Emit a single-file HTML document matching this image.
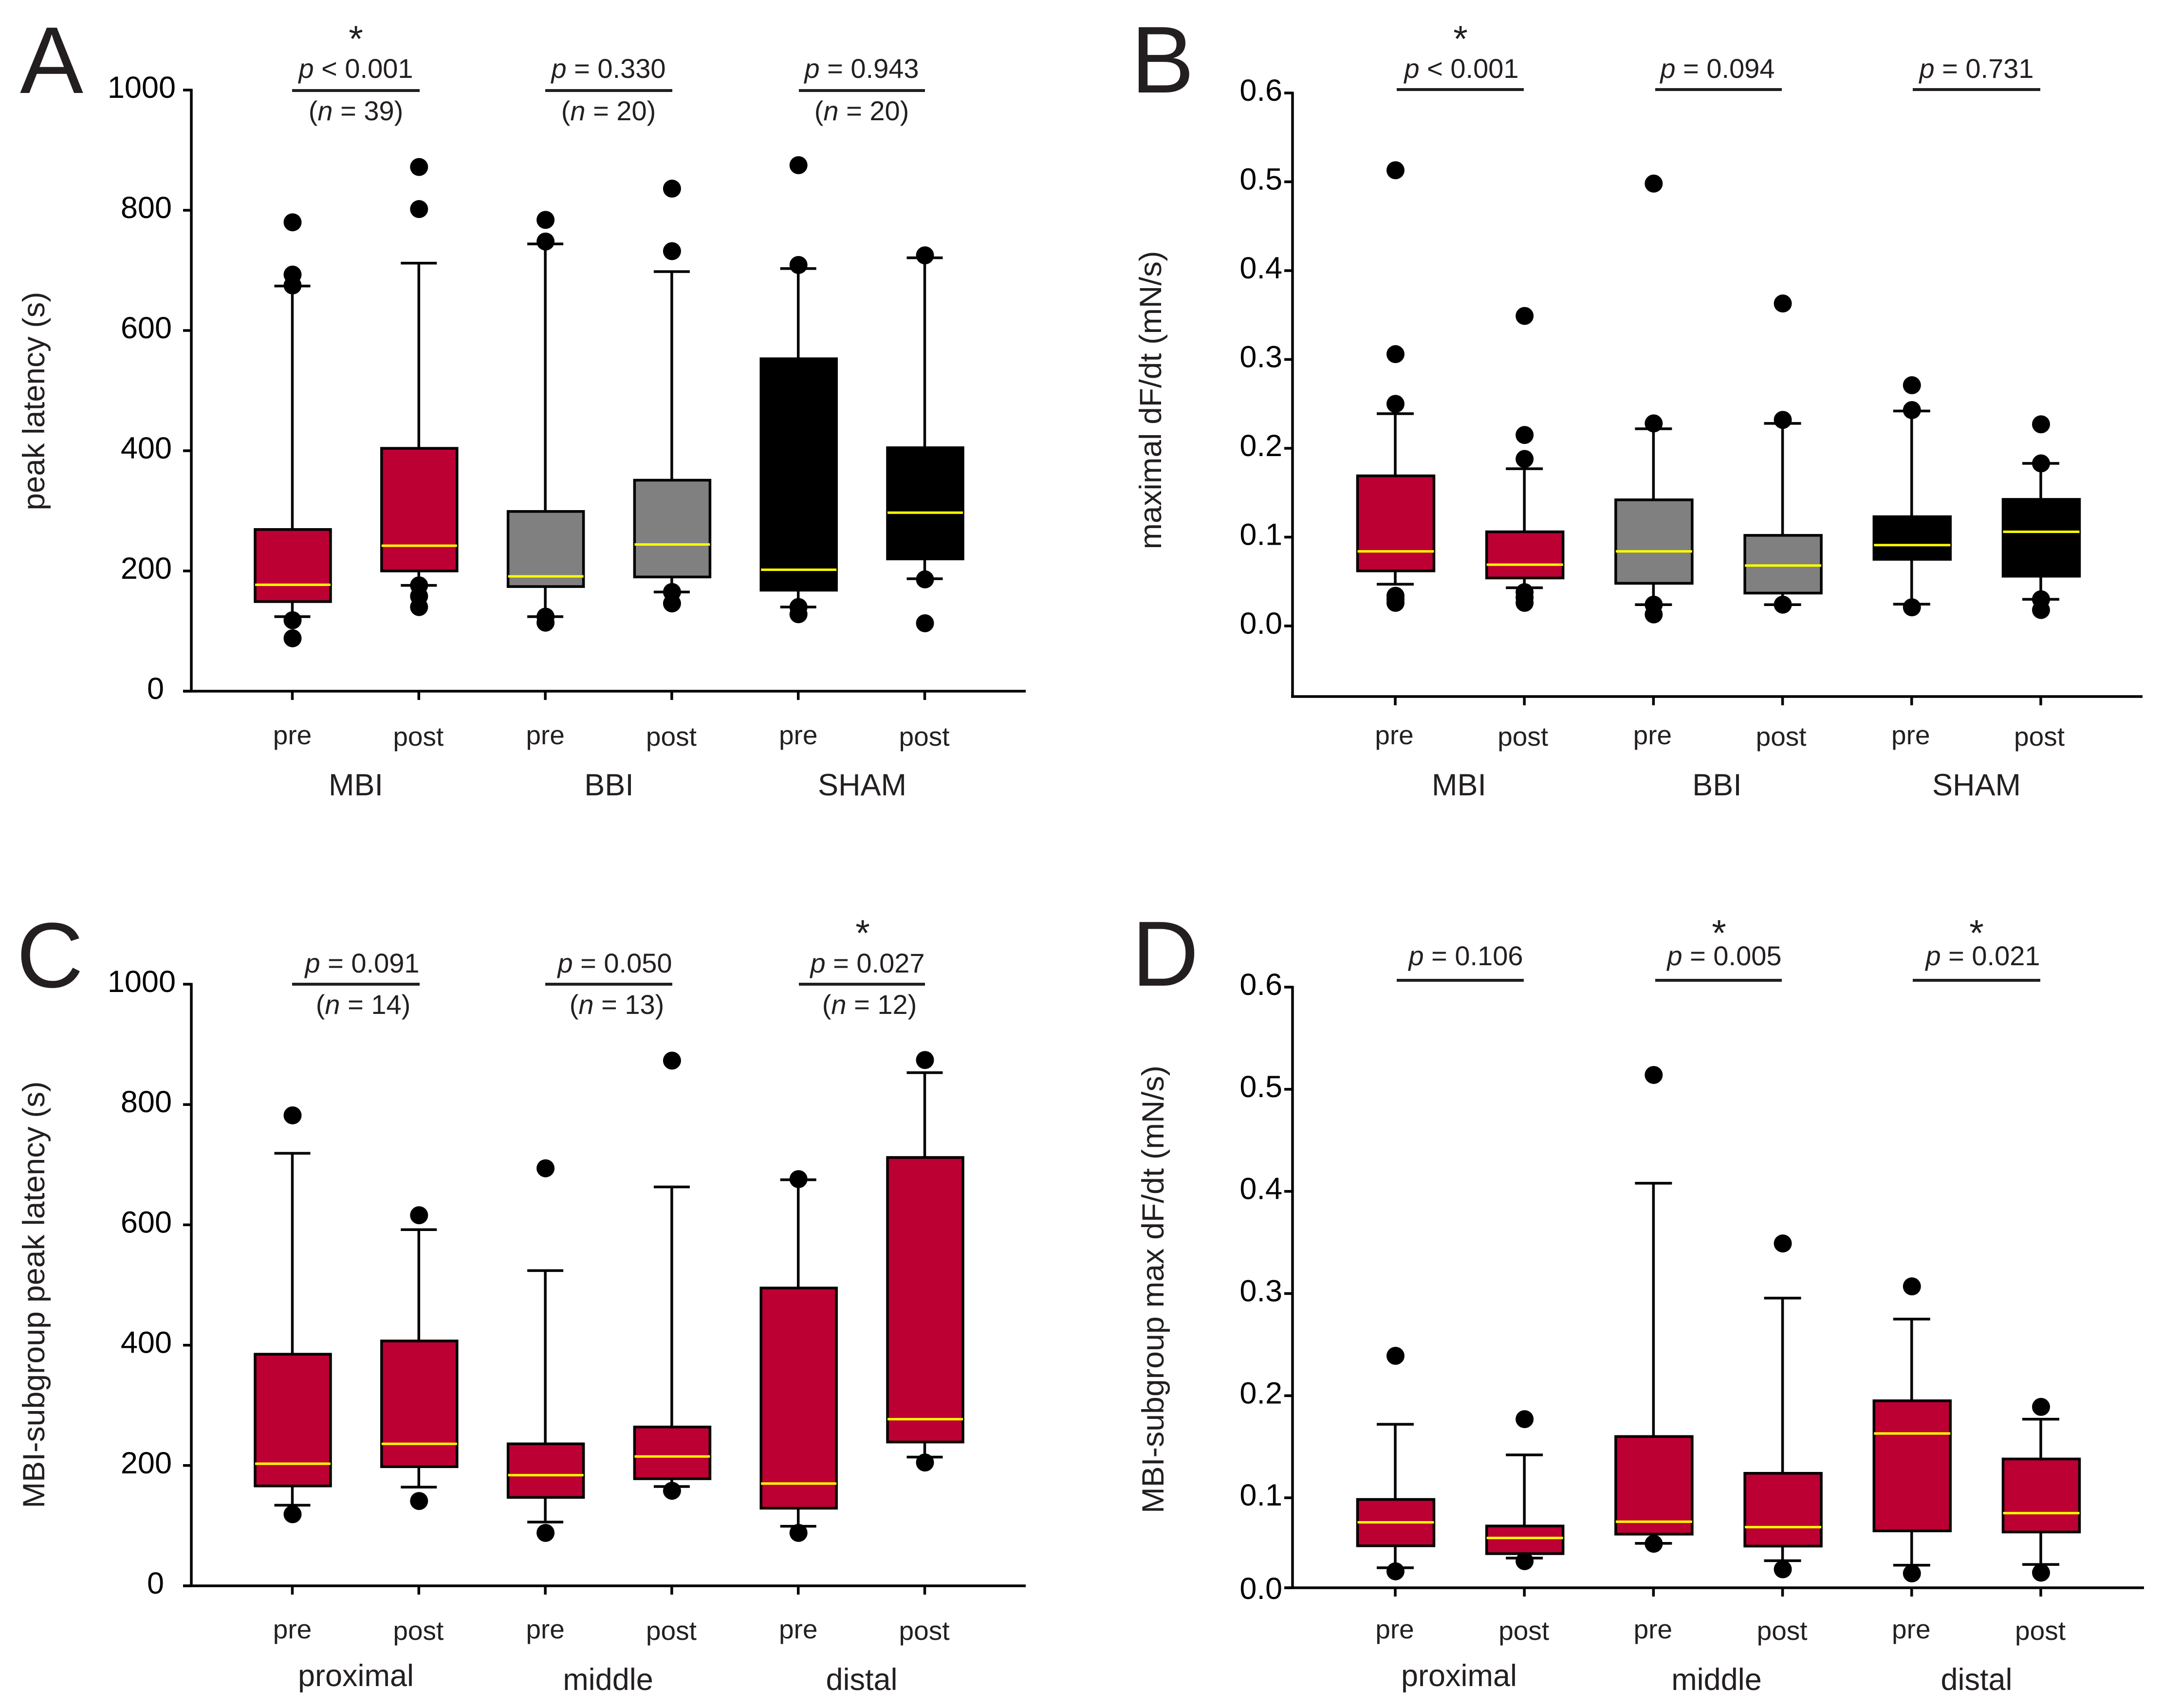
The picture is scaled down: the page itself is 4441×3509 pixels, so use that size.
<!DOCTYPE html>
<html lang="en">
<head>
<meta charset="utf-8">
<title>Peak latency and maximal dF/dt box plots</title>
<style>
html,body{margin:0;padding:0;background:#fff;}
svg{display:block;font-family:"Liberation Sans",Arial,sans-serif;fill:#231f20;}
.tick{font-size:63px;fill:#000;}
.cat{font-size:55px;}
.grp{font-size:63px;}
.ann{font-size:56px;text-anchor:middle;}
.star{font-size:76px;text-anchor:middle;}
.letter{font-size:195px;}
.ytitle{font-size:63px;text-anchor:middle;}
.grp{text-anchor:middle;}
.pline{stroke:#231f20;stroke-width:6;}
</style>
</head>
<body>
<svg id="figure" xmlns="http://www.w3.org/2000/svg" width="4441" height="3509" viewBox="0 0 4441 3509">
<rect width="4441" height="3509" fill="#ffffff"/>

<text class="letter" x="41" y="191">A</text>
<text class="letter" x="2323" y="190">B</text>
<text class="letter" x="34" y="2028" style="font-size:190px">C</text>
<text class="letter" x="2325" y="2025" style="font-size:190px">D</text>

<text class="ytitle" transform="translate(91,824) rotate(-90)" textLength="449" lengthAdjust="spacingAndGlyphs">peak latency (s)</text>
<text class="ytitle" transform="translate(2385,822) rotate(-90)" textLength="613" lengthAdjust="spacingAndGlyphs">maximal dF/dt (mN/s)</text>
<text class="ytitle" transform="translate(91,2660) rotate(-90)" textLength="877" lengthAdjust="spacingAndGlyphs">MBI-subgroup peak latency (s)</text>
<text class="ytitle" transform="translate(2390,2649) rotate(-90)" textLength="920" lengthAdjust="spacingAndGlyphs">MBI-subgroup max dF/dt (mN/s)</text>

<!-- Panel A annotations -->
<text class="star" x="731" y="106">*</text>
<text class="ann" x="731" y="160"><tspan font-style="italic">p</tspan> &lt; 0.001</text>
<text class="ann" x="1250" y="160"><tspan font-style="italic">p</tspan> = 0.330</text>
<text class="ann" x="1770" y="160"><tspan font-style="italic">p</tspan> = 0.943</text>
<line class="pline" x1="600" x2="862" y1="186" y2="186"/>
<line class="pline" x1="1120" x2="1381" y1="186" y2="186"/>
<line class="pline" x1="1641" x2="1900" y1="186" y2="186"/>
<text class="ann" x="731" y="247">(<tspan font-style="italic">n</tspan> = 39)</text>
<text class="ann" x="1250" y="247">(<tspan font-style="italic">n</tspan> = 20)</text>
<text class="ann" x="1770" y="247">(<tspan font-style="italic">n</tspan> = 20)</text>
<text class="grp" x="731" y="1634">MBI</text>
<text class="grp" x="1251" y="1634">BBI</text>
<text class="grp" x="1771" y="1634">SHAM</text>

<!-- Panel B annotations -->
<text class="star" x="3000" y="106">*</text>
<text class="ann" x="3002" y="160"><tspan font-style="italic">p</tspan> &lt; 0.001</text>
<text class="ann" x="3528" y="160"><tspan font-style="italic">p</tspan> = 0.094</text>
<text class="ann" x="4060" y="160"><tspan font-style="italic">p</tspan> = 0.731</text>
<line class="pline" x1="2869" x2="3130" y1="184" y2="184"/>
<line class="pline" x1="3400" x2="3660" y1="184" y2="184"/>
<line class="pline" x1="3929" x2="4191" y1="184" y2="184"/>
<text class="grp" x="2997" y="1634">MBI</text>
<text class="grp" x="3527" y="1634">BBI</text>
<text class="grp" x="4060" y="1634">SHAM</text>

<!-- Panel C annotations -->
<text class="star" x="1772" y="1943">*</text>
<text class="ann" x="744" y="1998"><tspan font-style="italic">p</tspan> = 0.091</text>
<text class="ann" x="1263" y="1998"><tspan font-style="italic">p</tspan> = 0.050</text>
<text class="ann" x="1782" y="1998"><tspan font-style="italic">p</tspan> = 0.027</text>
<line class="pline" x1="600" x2="862" y1="2022" y2="2022"/>
<line class="pline" x1="1120" x2="1381" y1="2022" y2="2022"/>
<line class="pline" x1="1641" x2="1900" y1="2022" y2="2022"/>
<text class="ann" x="746" y="2083">(<tspan font-style="italic">n</tspan> = 14)</text>
<text class="ann" x="1267" y="2083">(<tspan font-style="italic">n</tspan> = 13)</text>
<text class="ann" x="1786" y="2083">(<tspan font-style="italic">n</tspan> = 12)</text>
<text class="grp" x="731" y="3464">proximal</text>
<text class="grp" x="1249" y="3472">middle</text>
<text class="grp" x="1770" y="3472">distal</text>

<!-- Panel D annotations -->
<text class="star" x="3531" y="1943">*</text>
<text class="star" x="4060" y="1943">*</text>
<text class="ann" x="3011" y="1983"><tspan font-style="italic">p</tspan> = 0.106</text>
<text class="ann" x="3542" y="1983"><tspan font-style="italic">p</tspan> = 0.005</text>
<text class="ann" x="4073" y="1983"><tspan font-style="italic">p</tspan> = 0.021</text>
<line class="pline" x1="2869" x2="3130" y1="2014" y2="2014"/>
<line class="pline" x1="3400" x2="3660" y1="2014" y2="2014"/>
<line class="pline" x1="3929" x2="4191" y1="2014" y2="2014"/>
<text class="grp" x="2997" y="3464">proximal</text>
<text class="grp" x="3526" y="3472">middle</text>
<text class="grp" x="4060" y="3472">distal</text>
</svg>

<script>
// ---- shared categories ----
var categories = ["pre", "post", "pre", "post", "pre", "post"];

// ---- Panel A data: peak latency (s) ----
var aTickValues = [0, 200, 400, 600, 800, 1000];
var aTickLabels = ["0", "200", "400", "600", "800", "1000"];
var aQ3 = [269, 404, 299, 351, 553, 405];
var aMedian = [177, 242, 191, 244, 202, 297];
var aQ1 = [149, 200, 174, 190, 168, 220];
var aWhiskerHigh = [674, 712, 744, 698, 703, 721];
var aWhiskerLow = [124, 176, 124, 165, 140, 187];
var aOutliers = [
  [780, 693, 675, 118, 88],
  [872, 802, 176, 158, 140],
  [784, 748, 124, 114],
  [836, 732, 165, 146],
  [875, 709, 140, 128],
  [725, 186, 113]
];

// ---- Panel B data: maximal dF/dt (mN/s) ----
var bTickValues = [0, 0.1, 0.2, 0.3, 0.4, 0.5, 0.6];
var bTickLabels = ["0.0", "0.1", "0.2", "0.3", "0.4", "0.5", "0.6"];
var bQ3 = [0.169, 0.106, 0.142, 0.102, 0.123, 0.1425];
var bMedian = [0.084, 0.069, 0.084, 0.068, 0.091, 0.106];
var bQ1 = [0.062, 0.054, 0.048, 0.037, 0.075, 0.056];
var bWhiskerHigh = [0.239, 0.177, 0.222, 0.228, 0.242, 0.183];
var bWhiskerLow = [0.047, 0.043, 0.024, 0.024, 0.0245, 0.03];
var bOutliers = [
  [0.513, 0.306, 0.25, 0.034, 0.03, 0.026],
  [0.349, 0.215, 0.188, 0.038, 0.032, 0.026],
  [0.498, 0.228, 0.024, 0.013],
  [0.363, 0.232, 0.024],
  [0.271, 0.243, 0.021],
  [0.227, 0.183, 0.03, 0.018]
];

// ---- Panel C data: MBI subgroup peak latency (s) ----
var cTickValues = [0, 200, 400, 600, 800, 1000];
var cTickLabels = ["0", "200", "400", "600", "800", "1000"];
var cQ3 = [385, 407, 236, 264, 495, 712];
var cMedian = [203, 236, 184, 215, 170, 277];
var cQ1 = [166, 198, 147, 178, 129, 239];
var cWhiskerHigh = [719, 592, 524, 663, 675, 853];
var cWhiskerLow = [134, 164, 106, 165, 99, 214];
var cOutliers = [
  [782, 119],
  [616, 141],
  [694, 88],
  [873, 158],
  [676, 88],
  [874, 205]
];

// ---- Panel D data: MBI subgroup max dF/dt (mN/s) ----
// The original axis is truncated: its bottom tick is printed "0.0" just above true zero.
var dTickValues = [0.0119, 0.1, 0.2, 0.3, 0.4, 0.5, 0.6];
var dTickLabels = ["0.0", "0.1", "0.2", "0.3", "0.4", "0.5", "0.6"];
var dQ3 = [0.0984, 0.0724, 0.16, 0.124, 0.195, 0.138];
var dMedian = [0.076, 0.0607, 0.0766, 0.0713, 0.163, 0.085];
var dQ1 = [0.053, 0.0453, 0.0644, 0.0527, 0.0676, 0.0665];
var dWhiskerHigh = [0.172, 0.142, 0.408, 0.2955, 0.275, 0.177];
var dWhiskerLow = [0.0315, 0.041, 0.0554, 0.0384, 0.034, 0.0347];
var dOutliers = [
  [0.239, 0.028],
  [0.177, 0.038],
  [0.514, 0.055],
  [0.349, 0.03],
  [0.307, 0.026],
  [0.189, 0.0267]
];

var RED = "#bc0033", GRAY = "#808080", BLACK = "#000000";

var svg = document.getElementById("figure");
var NS = "http://www.w3.org/2000/svg";

function make(tag, attrs) {
  var el = document.createElementNS(NS, tag);
  for (var k in attrs) { el.setAttribute(k, attrs[k]); }
  svg.appendChild(el);
  return el;
}

function linePart(x1, y1, x2, y2, w) {
  return make("line", { x1: x1, y1: y1, x2: x2, y2: y2, stroke: "#000", "stroke-width": w });
}

function drawPanel(p) {
  var yOf = function (v) {
    return p.rangeBottom + (v - p.domainMin) / (p.domainMax - p.domainMin) * (p.rangeTop - p.rangeBottom);
  };
  var xOf = function (i) { return p.x0 + i * p.step; };

  // y axis
  var yAxis = linePart(p.axisX, p.rangeTop - 2.5, p.axisX, p.axisBottom + 2.5, 5.5);
  
  

  // x axis
  var xAxis = linePart(p.xAxisStart, p.axisBottom, p.xAxisEnd, p.axisBottom, 5.5);
  
  

  // y ticks and labels
  p.tickValues.forEach(function (v, i) {
    var ty = yOf(v);
    var t = linePart(p.axisX - 17, ty, p.axisX, ty, 5.5);
    
    
    var label = p.tickLabels[i];
    var lx = p.labelEnd ? p.labelEnd : 329 + 8 * label.length;
    var dy = (i === 0 && p.bottomLabelDy) ? p.bottomLabelDy : 16;
    var tx = make("text", { x: lx, y: ty + dy, "class": "tick", "text-anchor": "end" });
    tx.textContent = label;
    
    
  });

  // boxes
  categories.forEach(function (cat, i) {
    var cx = xOf(i);
    var fill = p.fills[i];
    var boxW = p.boxWidth, capW = p.capWidth;
    var suffix = p.id + '-' + i + '-' + cat;

    var wh = linePart(cx, yOf(p.whiskerHigh[i]), cx, yOf(p.q3[i]), 5.5);
    
    

    var wl = linePart(cx, yOf(p.q1[i]), cx, yOf(p.whiskerLow[i]), 5.5);
    
    

    var ch = linePart(cx - capW / 2, yOf(p.whiskerHigh[i]), cx + capW / 2, yOf(p.whiskerHigh[i]), 5.5);
    
    

    var cl = linePart(cx - capW / 2, yOf(p.whiskerLow[i]), cx + capW / 2, yOf(p.whiskerLow[i]), 5.5);
    
    

    var box = make("rect", {
      x: cx - boxW / 2 + 1, y: yOf(p.q3[i]), width: boxW, height: yOf(p.q1[i]) - yOf(p.q3[i]),
      fill: fill, stroke: "#000", "stroke-width": 5.5
    });
    
    

    var med = make("line", {
      x1: cx - boxW / 2 + 1, y1: yOf(p.median[i]), x2: cx + boxW / 2 + 1, y2: yOf(p.median[i]),
      stroke: "#ffff00", "stroke-width": 5
    });
    
    

    p.outliers[i].forEach(function (o, j) {
      var dot = make("circle", { cx: cx + 0.5, cy: yOf(o), r: 18.5, fill: "#000" });
      
      
    });

    var tick = linePart(cx, p.axisBottom, cx, p.axisBottom + 18, 5.5);
    
    

    var isPost = cat === "post";
    var lab = make("text", {
      x: cx + (isPost ? p.postDx : p.preDx),
      y: p.catBaseline + (isPost ? 3 : 0),
      "class": "cat", "text-anchor": "middle"
    });
    lab.textContent = cat;
    
    
  });
}

drawPanel({
  id: "a", x0: 600.5, step: 259.8, axisX: 393, xAxisStart: 376, xAxisEnd: 2107,
  rangeTop: 185, rangeBottom: 1420, axisBottom: 1420, domainMin: 0, domainMax: 1000,
  boxWidth: 155, capWidth: 74, catBaseline: 1529, preDx: 0, postDx: -1,
  tickValues: aTickValues, tickLabels: aTickLabels,
  q3: aQ3, median: aMedian, q1: aQ1, whiskerHigh: aWhiskerHigh, whiskerLow: aWhiskerLow, outliers: aOutliers,
  fills: [RED, RED, GRAY, GRAY, BLACK, BLACK]
});
drawPanel({
  id: "b", x0: 2866, step: 265.2, axisX: 2655, xAxisStart: 2652, xAxisEnd: 4401,
  rangeTop: 191, rangeBottom: 1286, axisBottom: 1431, domainMin: 0, domainMax: 0.6,
  boxWidth: 157, capWidth: 76, catBaseline: 1529, labelEnd: 2634, preDx: -2, postDx: -3,
  tickValues: bTickValues, tickLabels: bTickLabels,
  q3: bQ3, median: bMedian, q1: bQ1, whiskerHigh: bWhiskerHigh, whiskerLow: bWhiskerLow, outliers: bOutliers,
  fills: [RED, RED, GRAY, GRAY, BLACK, BLACK]
});
drawPanel({
  id: "c", x0: 600.5, step: 259.8, axisX: 393, xAxisStart: 376, xAxisEnd: 2107,
  rangeTop: 2022, rangeBottom: 3258, axisBottom: 3258, domainMin: 0, domainMax: 1000,
  boxWidth: 155, capWidth: 74, catBaseline: 3366, preDx: 0, postDx: -1,
  tickValues: cTickValues, tickLabels: cTickLabels,
  q3: cQ3, median: cMedian, q1: cQ1, whiskerHigh: cWhiskerHigh, whiskerLow: cWhiskerLow, outliers: cOutliers,
  fills: [RED, RED, RED, RED, RED, RED]
});
drawPanel({
  id: "d", x0: 2866, step: 265.2, axisX: 2655, xAxisStart: 2638, xAxisEnd: 4404,
  rangeTop: 2028, rangeBottom: 3262, axisBottom: 3262, domainMin: 0.0119, domainMax: 0.6,
  boxWidth: 157, capWidth: 76, catBaseline: 3366, labelEnd: 2634, bottomLabelDy: 23, preDx: -1, postDx: -1,
  tickValues: dTickValues, tickLabels: dTickLabels,
  q3: dQ3, median: dMedian, q1: dQ1, whiskerHigh: dWhiskerHigh, whiskerLow: dWhiskerLow, outliers: dOutliers,
  fills: [RED, RED, RED, RED, RED, RED]
});
</script>
</body>
</html>
